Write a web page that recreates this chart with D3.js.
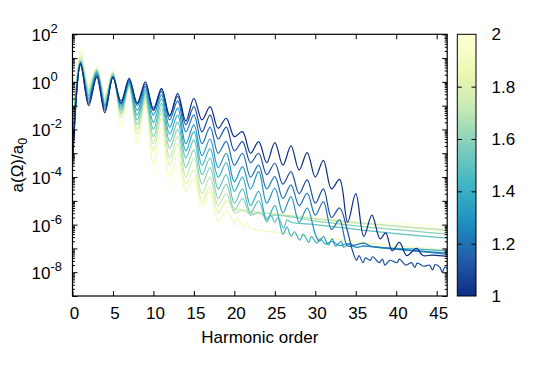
<!DOCTYPE html>
<html><head><meta charset="utf-8">
<script src="https://cdn.jsdelivr.net/npm/d3@7"></script>
<style>
html,body{margin:0;padding:0;background:#fff;}
text{font-family:"Liberation Sans",Arial,Helvetica,sans-serif;fill:#000;}
</style></head>
<body><svg id="chart" width="552" height="367"></svg>
<script>
// ---- data (log10 of a(Ω)/a0) ----
const params = [1.0, 1.1, 1.2, 1.3, 1.4, 1.5, 1.6, 1.7, 1.8, 1.9, 2.0];
// plateau: value at harmonic order 0,1,2,... (odd = peaks, even = troughs)
const plateau_1_0 = [-3.6,0.8,-1.0,0.2,-1.3,0.2,-0.9,0.15,-0.9,0.0,-1.2,-0.27,-1.45,-0.48,-1.65,-0.69,-1.6,-1.04,-1.95,-1.53,-2.3,-2.09,-3.0,-2.51,-3.4,-2.55,-3.5,-2.69,-3.7,-2.97,-4.0,-3.3,-4.5,-4.1,-5.9,-4.7,-6.5,-5.6,-6.6];
const plateau_1_1 = [-3.4,0.75,-0.9,0.25,-1.2,0.2,-0.8,0.1,-0.9,-0.1,-1.1,-0.3,-1.4,-0.6,-1.8,-1.04,-2.1,-1.4,-2.4,-1.9,-2.9,-2.51,-3.4,-3.0,-3.9,-3.42,-4.3,-3.77,-4.7,-4.12,-5.1,-4.5,-5.7,-5.3,-6.3];
const plateau_1_2 = [-3.2,0.7,-0.8,0.3,-1.1,0.2,-0.9,0.05,-1.0,-0.2,-1.2,-0.4,-1.6,-0.8,-2.1,-1.39,-2.6,-1.9,-3.0,-2.5,-3.5,-3.0,-4.0,-3.5,-4.5,-3.98,-4.9,-4.33,-5.2,-4.68,-5.6,-5.03,-6.2,-5.8,-6.9];
const plateau_1_3 = [-3.0,0.7,-0.7,0.35,-1.0,0.2,-1.0,0.0,-1.2,-0.3,-1.4,-0.55,-1.9,-1.1,-2.6,-1.81,-3.1,-2.4,-3.6,-3.0,-4.2,-3.56,-4.5,-3.77,-5.1,-4.47,-5.5,-4.82,-5.9,-5.3,-6.4];
const plateau_1_4 = [-2.8,0.8,-0.6,0.4,-1.0,0.25,-1.1,-0.05,-1.4,-0.4,-1.7,-0.7,-2.2,-1.4,-2.9,-2.09,-3.5,-2.8,-4.0,-3.4,-4.6,-4.0,-5.2,-4.6,-5.8,-5.2,-6.4];
const plateau_1_5 = [-2.6,0.85,-0.5,0.45,-0.9,0.3,-1.2,-0.1,-1.6,-0.5,-2.0,-0.9,-2.5,-1.7,-3.2,-2.44,-3.9,-3.2,-4.5,-3.9,-5.1,-4.5,-5.5,-5.0,-5.9];
const plateau_1_6 = [-2.5,0.9,-0.4,0.5,-0.8,0.35,-1.3,-0.15,-1.8,-0.6,-2.3,-1.1,-2.8,-2.0,-3.6,-2.86,-4.3,-3.6,-4.9,-4.3,-5.4,-4.9,-5.6];
const plateau_1_7 = [-2.6,1.0,-0.3,0.5,-0.7,0.4,-1.4,-0.2,-2.0,-0.7,-2.6,-1.3,-3.2,-2.3,-4.0,-3.2,-4.7,-4.0,-5.2,-4.7,-5.5];
const plateau_1_8 = [-2.8,1.1,-0.2,0.55,-0.6,0.4,-1.5,-0.25,-2.2,-0.8,-2.9,-1.5,-3.5,-2.6,-4.3,-3.7,-5.0,-4.4,-5.5,-5.0,-5.3];
const plateau_1_9 = [-3.0,1.3,-0.15,0.6,-0.6,0.45,-1.8,-0.1,-2.5,-0.9,-3.5,-1.9,-4.0,-3.0,-4.6,-4.0,-5.2,-4.6,-5.9,-5.4];
const plateau_2_0 = [-3.2,1.45,-0.1,0.6,-0.5,0.5,-2.0,0.0,-2.7,-1.0,-3.9,-2.4,-4.5,-3.5,-4.5,-4.2,-5.4,-4.8,-5.3];
// noise floor after the cutoff: [harmonic order, log10 value]
const floor_1_0 = [[38.7,-6.35],[39.5,-7.1],[40.4,-6.75],[41.3,-7.3],[42.5,-7.0],[43.3,-7.3],[44.5,-7.28],[46.3,-7.34]];
const floor_1_1 = [[34.6,-7.1],[35.1,-7.5],[35.4,-7.3],[35.9,-7.6],[36.2,-7.4],[36.8,-7.5],[37.1,-7.35],[37.9,-7.6],[38.3,-7.45],[38.6,-7.7],[39.2,-7.5],[40.1,-7.6],[40.4,-7.45],[41.2,-7.7],[41.9,-7.6],[42.3,-7.8],[42.6,-7.62],[43.4,-7.75],[44.1,-7.7],[44.5,-7.9],[44.8,-7.68],[45.4,-7.8],[45.7,-8.0],[46.0,-7.78],[46.3,-7.85]];
const floor_1_2 = [[35,-6.85],[36,-6.78],[37,-6.92],[38,-6.95],[42,-7.08],[46.3,-7.2]];
const floor_1_3 = [[30.5,-6.7],[31,-6.5],[31.6,-6.85],[32.1,-6.6],[32.5,-6.9],[33.2,-6.7],[33.5,-6.95],[34.3,-6.8],[35,-6.95],[36,-6.9],[38,-6.98],[42,-7.1],[46.3,-7.25]];
const floor_1_4 = [[26.5,-6.1],[27,-6.5],[27.4,-6.3],[28.1,-6.65],[28.5,-6.4],[29.2,-6.75],[29.5,-6.5],[30.2,-6.78],[30.6,-6.6],[31.3,-6.82],[32,-6.7],[33,-6.88],[34,-6.8],[35,-6.95],[36,-6.9],[39,-6.98],[42,-7.02],[46.3,-7.1]];
const floor_1_5 = [[24.5,-5.6],[25,-5.9],[25.4,-5.7],[26.1,-6.15],[26.5,-5.8],[27,-5.9],[28,-5.95],[30,-6.0],[35,-6.2],[40,-6.38],[46.3,-6.57]];
const floor_1_6 = [[23,-5.5],[24,-5.7],[25,-5.6],[30,-5.85],[38,-6.15],[46.3,-6.4]];
const floor_1_7 = [[21,-5.4],[22,-5.55],[23,-5.5],[30,-5.75],[38,-6.0],[46.3,-6.22]];
const floor_1_8 = [[21,-5.38],[26,-5.6],[32,-5.85],[39,-6.05],[46.3,-6.26]];
const floor_1_9 = [[19.5,-5.6],[20,-6.0],[20.4,-5.7],[21.1,-6.1],[21.5,-5.9],[22,-6.15],[26,-6.35],[32,-6.6],[39,-6.85],[46.3,-7.06]];
const floor_2_0 = [[19,-5.2],[19.5,-5.3],[25,-5.5],[32,-5.75],[39,-5.92],[46.3,-6.08]];

const plateaus = [plateau_1_0,plateau_1_1,plateau_1_2,plateau_1_3,plateau_1_4,plateau_1_5,plateau_1_6,plateau_1_7,plateau_1_8,plateau_1_9,plateau_2_0];
const floors = [floor_1_0,floor_1_1,floor_1_2,floor_1_3,floor_1_4,floor_1_5,floor_1_6,floor_1_7,floor_1_8,floor_1_9,floor_2_0];

const xTicks = [0,5,10,15,20,25,30,35,40,45];
const yLabelExps = [2,0,-2,-4,-6,-8];
const cbTicks = [1,1.2,1.4,1.6,1.8,2];
const cbLabels = ["1","1.2","1.4","1.6","1.8","2"];
const paletteColors = ["#0C2C84","#225EA8","#1D91C0","#41B6C4","#7FCDBB","#C7E9B4","#EDF8B1","#FFFFD9"];

// ---- layout ----
const L=72.5, R=447.2, T=34.3, B=296;
const svg = d3.select("#chart");
const x = d3.scaleLinear().domain([0,46.3]).range([L,R]);
const y = d3.scaleLog().domain([1e-9,1e2]).range([B,T]);
const color = d3.scaleLinear()
  .domain(paletteColors.map((c,i)=>1+i/(paletteColors.length-1)))
  .range(paletteColors).interpolate(d3.interpolateRgb);

const series = params.map((p,i)=>({
  p,
  pts: plateaus[i].map((e,h)=>[h,Math.pow(10,e)]).concat(floors[i].map(d=>[d[0],Math.pow(10,d[1])]))
}));

svg.append("defs").append("clipPath").attr("id","clip")
  .append("rect").attr("x",L).attr("y",T).attr("width",R-L).attr("height",B-T);

const line = d3.line().x(d=>x(d[0])).y(d=>y(d[1])).curve(d3.curveCatmullRom.alpha(0.5));
svg.append("g").attr("clip-path","url(#clip)")
  .selectAll("path").data(series.slice().reverse()).join("path")
  .attr("d",d=>line(d.pts)).attr("fill","none")
  .attr("stroke",d=>color(d.p)).attr("stroke-width",1.2).attr("stroke-linejoin","round");

// ---- axes ----
const fs = 17;
const majors = d3.range(-9,3).map(e=>Math.pow(10,e));
const minors = [];
d3.range(-9,2).forEach(e=>{for(let k=2;k<=9;k++) minors.push(k*Math.pow(10,e));});

function styleAxis(g){ g.select(".domain").remove(); g.selectAll("line").attr("stroke","#000").attr("stroke-width",1); }

svg.append("g").attr("transform",`translate(0,${B})`)
  .call(d3.axisBottom(x).tickValues(xTicks).tickSizeInner(-5).tickSizeOuter(0).tickPadding(11))
  .call(styleAxis)
  .call(g=>g.selectAll("text").attr("font-size",fs).attr("font-family","Liberation Sans, Arial, sans-serif").attr("dx",1.5));
svg.append("g").attr("transform",`translate(0,${T})`)
  .call(d3.axisTop(x).tickValues(xTicks).tickSizeInner(-5).tickSizeOuter(0).tickFormat(""))
  .call(styleAxis);
svg.append("g").attr("transform",`translate(${L},0)`)
  .call(d3.axisLeft(y).tickValues(majors).tickSizeInner(-5).tickSizeOuter(0).tickFormat(""))
  .call(styleAxis);
svg.append("g").attr("transform",`translate(${L},0)`)
  .call(d3.axisLeft(y).tickValues(minors).tickSizeInner(-2.5).tickSizeOuter(0).tickFormat(""))
  .call(styleAxis);
svg.append("g").attr("transform",`translate(${R},0)`)
  .call(d3.axisRight(y).tickValues(majors).tickSizeInner(-5).tickSizeOuter(0).tickFormat(""))
  .call(styleAxis);
svg.append("g").attr("transform",`translate(${R},0)`)
  .call(d3.axisRight(y).tickValues(minors).tickSizeInner(-2.5).tickSizeOuter(0).tickFormat(""))
  .call(styleAxis);

svg.append("rect").attr("x",L).attr("y",T).attr("width",R-L).attr("height",B-T)
  .attr("fill","none").attr("stroke","#000").attr("stroke-width",1.2);

// y tick labels 10^n
const yl = svg.append("g").selectAll("text").data(yLabelExps).join("text")
  .attr("x",31.5).attr("y",e=>y(Math.pow(10,e))+7).attr("font-size",fs);
yl.append("tspan").text("10");
yl.append("tspan").attr("dy",-8).attr("font-size",13).text(e=>e<0?"-"+(-e):String(e));

// titles
svg.append("text").attr("x",(L+R)/2).attr("y",343).attr("text-anchor","middle").attr("font-size",fs).text("Harmonic order");
const yt = svg.append("text").attr("transform",`translate(22.5,${(T+B)/2}) rotate(-90)`)
  .attr("text-anchor","middle").attr("font-size",fs);
yt.append("tspan").text("a(Ω)/a");
yt.append("tspan").attr("dy",4).attr("font-size",12.5).text("0");

// ---- colorbar ----
const cbX=457.3, cbW=18.7;
const cy = d3.scaleLinear().domain([1,2]).range([B,T]);
const grad = svg.select("defs").append("linearGradient").attr("id","cbgrad")
  .attr("x1",0).attr("y1",1).attr("x2",0).attr("y2",0);
d3.range(0,1.0001,0.05).forEach(t=>grad.append("stop").attr("offset",t).attr("stop-color",color(1+t)));
svg.append("rect").attr("x",cbX).attr("y",T).attr("width",cbW).attr("height",B-T)
  .attr("fill","url(#cbgrad)").attr("stroke","#000").attr("stroke-width",1);
svg.append("g").attr("transform",`translate(${cbX},0)`)
  .call(d3.axisLeft(cy).tickValues(cbTicks.slice(1,-1)).tickSizeInner(-4.5).tickSizeOuter(0).tickFormat(""))
  .call(styleAxis);
svg.append("g").attr("transform",`translate(${cbX+cbW},0)`)
  .call(d3.axisRight(cy).tickValues(cbTicks.slice(1,-1)).tickSizeInner(-4.5).tickSizeOuter(0).tickFormat(""))
  .call(styleAxis);
svg.append("g").selectAll("text").data(cbTicks).join("text")
  .attr("x",491.5).attr("y",d=>cy(d)).attr("dy","0.36em").attr("font-size",fs)
  .text((d,i)=>cbLabels[i]);
</script></body></html>
